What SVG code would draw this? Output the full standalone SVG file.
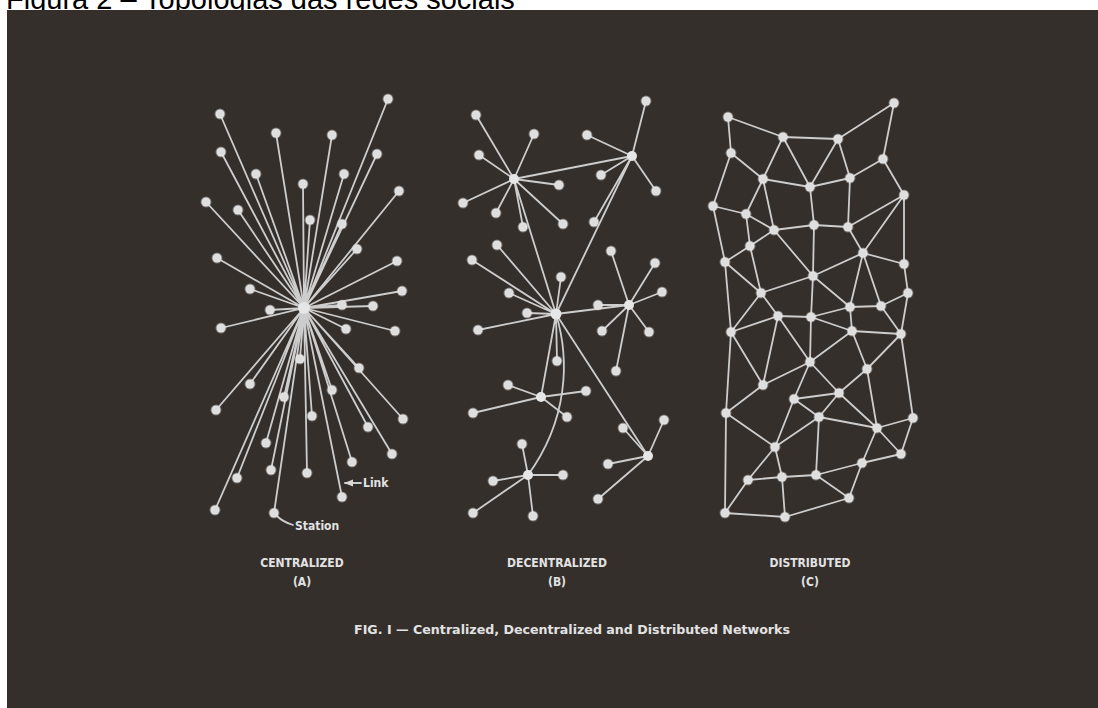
<svg xmlns="http://www.w3.org/2000/svg" width="1098" height="708" viewBox="0 0 1098 708">
<defs>
<marker id="arr" viewBox="0 0 10 10" refX="9" refY="5" markerWidth="5" markerHeight="5" orient="auto"><path d="M0 1L10 5L0 9z" fill="#d8d8d8"/></marker>
<style>
.ln{stroke:#cdcdcd;stroke-width:1.8;fill:none;stroke-linecap:round}
.nd{fill:#dedede;stroke:#f0f0f0;stroke-opacity:0.35;stroke-width:2}
.hub{fill:#e6e6e6}
.lbl{font-family:"DejaVu Sans Condensed","DejaVu Sans",sans-serif;fill:#e2e2e2;font-size:12px;font-weight:bold}
</style>
</defs>
<rect width="1098" height="708" fill="#ffffff"/>
<text x="6" y="8.5" font-family="Liberation Sans, Arial, sans-serif" font-size="29" fill="#000">Figura 2 – Topologias das redes sociais</text>
<rect x="7" y="10" width="1091" height="698" fill="#352f2c"/>

<g id="connectors">
<g id="conn-centralized">
<path class="ln" d="M304 308L388 99M304 308L220 114M304 308L276 133M304 308L332 135M304 308L221 152M304 308L377 154M304 308L256 174M304 308L344 174M304 308L303 184M304 308L399 191M304 308L206 202M304 308L238 210M304 308L310 220M304 308L342 224M304 308L357 249M304 308L217 258M304 308L397 261M304 308L250 289M304 308L402 291M304 308L342 305M304 308L373 306M304 308L270 310M304 308L221 328M304 308L346 329M304 308L395 331M304 308L300 359M304 308L359 368M304 308L250 384M304 308L332 390M304 308L284 397M304 308L216 410M304 308L312 416M304 308L403 419M304 308L368 427M304 308L266 443M304 308L392 454M304 308L352 462M304 308L271 470M304 308L307 473M304 308L237 478M304 308L342 497M304 308L215 510M304 308L274 513"/>
<path class="ln" d="M361 483L345 483" stroke-width="1.4" marker-end="url(#arr)"/>
<path class="ln" d="M277 516Q283 522 293 525" stroke-width="1.4"/>
</g>
<g id="conn-decentralized">
<path class="ln" d="M514 179L476 115M514 179L534 134M514 179L479 155M514 179L559 185M514 179L463 203M514 179L496 213M514 179L523 227M514 179L563 224M514 179L632 156M514 179L556 314"/>
<path class="ln" d="M632 156L646 101M632 156L587 135M632 156L601 175M632 156L656 191M632 156L594 222M632 156L556 314"/>
<path class="ln" d="M556 314L497 245M556 314L472 260M556 314L561 277M556 314L509 293M556 314L527 313M556 314L478 330M556 314L557 361M556 314L629 305M556 314L648 456M556 314L541 397"/>
<path class="ln" d="M556 314C570 360 568 420 528 475"/>
<path class="ln" d="M629 305L611 251M629 305L655 263M629 305L662 292M629 305L598 305M629 305L602 331M629 305L649 332M629 305L616 371"/>
<path class="ln" d="M648 456L664 420M648 456L623 428M648 456L608 464M648 456L598 499"/>
<path class="ln" d="M541 397L508 385M541 397L586 391M541 397L473 413M541 397L567 417"/>
<path class="ln" d="M528 475L522 444M528 475L493 481M528 475L563 475M528 475L473 513M528 475L533 516"/>
</g>
<g id="conn-distributed">
<path class="ln" d="M728 117L783 137M728 117L731 153M783 137L838 139M838 139L894 103M894 103L883 159M783 137L763 179M783 137L810 187M838 139L810 187M838 139L850 178M731 153L763 179M731 153L713 206M763 179L810 187M810 187L850 178M850 178L883 159M883 159L904 195M763 179L746 214M763 179L774 230M810 187L814 225M850 178L848 227M848 227L904 195M713 206L746 214M713 206L725 262M746 214L774 230M746 214L750 246M774 230L814 225M814 225L848 227M774 230L750 246M750 246L725 262M774 230L813 276M814 225L813 276M848 227L863 253M904 195L863 253M904 195L904 264M863 253L904 264M813 276L863 253M750 246L761 293M725 262L761 293M761 293L813 276M863 253L850 307M863 253L881 306M904 264L908 293M908 293L881 306M761 293L778 316M813 276L811 317M813 276L850 307M850 307L881 306M778 316L811 317M811 317L850 307"/>
<path class="ln" d="M731 332L778 316M725 262L731 332M761 293L731 332M811 317L810 362M811 317L852 331M850 307L852 331M881 306L901 334M852 331L901 334M852 331L867 369M901 334L867 369M901 334L913 418M908 293L901 334M810 362L852 331M778 316L763 385M778 316L810 362M731 332L763 385M731 332L726 413M810 362L763 385M810 362L839 393M810 362L794 399M867 369L839 393M867 369L877 428M763 385L726 413M794 399L839 393M794 399L819 417M839 393L819 417M839 393L877 428M794 399L775 447M726 413L775 447M726 413L725 513M819 417L877 428M819 417L775 447M819 417L816 475M913 418L877 428M913 418L901 454M877 428L901 454M877 428L862 463M775 447L748 480M775 447L782 477M901 454L862 463M862 463L816 475M862 463L849 498M748 480L782 477M748 480L725 513M782 477L785 517M816 475L849 498M725 513L785 517M785 517L849 498M782 477L816 475"/>
</g>
</g>

<g id="centralized">
<g id="hub-a"><circle class="hub" cx="304" cy="308" r="6"/></g>
<g id="ca1"><circle class="nd" cx="388" cy="99" r="4.5"/></g>
<g id="ca2"><circle class="nd" cx="220" cy="114" r="4.5"/></g>
<g id="ca3"><circle class="nd" cx="276" cy="133" r="4.5"/></g>
<g id="ca4"><circle class="nd" cx="332" cy="135" r="4.5"/></g>
<g id="ca5"><circle class="nd" cx="221" cy="152" r="4.5"/></g>
<g id="ca6"><circle class="nd" cx="377" cy="154" r="4.5"/></g>
<g id="ca7"><circle class="nd" cx="256" cy="174" r="4.5"/></g>
<g id="ca8"><circle class="nd" cx="344" cy="174" r="4.5"/></g>
<g id="ca9"><circle class="nd" cx="303" cy="184" r="4.5"/></g>
<g id="ca10"><circle class="nd" cx="399" cy="191" r="4.5"/></g>
<g id="ca11"><circle class="nd" cx="206" cy="202" r="4.5"/></g>
<g id="ca12"><circle class="nd" cx="238" cy="210" r="4.5"/></g>
<g id="ca13"><circle class="nd" cx="310" cy="220" r="4.5"/></g>
<g id="ca14"><circle class="nd" cx="342" cy="224" r="4.5"/></g>
<g id="ca15"><circle class="nd" cx="357" cy="249" r="4.5"/></g>
<g id="ca16"><circle class="nd" cx="217" cy="258" r="4.5"/></g>
<g id="ca17"><circle class="nd" cx="397" cy="261" r="4.5"/></g>
<g id="ca18"><circle class="nd" cx="250" cy="289" r="4.5"/></g>
<g id="ca19"><circle class="nd" cx="402" cy="291" r="4.5"/></g>
<g id="ca20"><circle class="nd" cx="342" cy="305" r="4.5"/></g>
<g id="ca21"><circle class="nd" cx="373" cy="306" r="4.5"/></g>
<g id="ca22"><circle class="nd" cx="270" cy="310" r="4.5"/></g>
<g id="ca23"><circle class="nd" cx="221" cy="328" r="4.5"/></g>
<g id="ca24"><circle class="nd" cx="346" cy="329" r="4.5"/></g>
<g id="ca25"><circle class="nd" cx="395" cy="331" r="4.5"/></g>
<g id="ca26"><circle class="nd" cx="300" cy="359" r="4.5"/></g>
<g id="ca27"><circle class="nd" cx="359" cy="368" r="4.5"/></g>
<g id="ca28"><circle class="nd" cx="250" cy="384" r="4.5"/></g>
<g id="ca29"><circle class="nd" cx="332" cy="390" r="4.5"/></g>
<g id="ca30"><circle class="nd" cx="284" cy="397" r="4.5"/></g>
<g id="ca31"><circle class="nd" cx="216" cy="410" r="4.5"/></g>
<g id="ca32"><circle class="nd" cx="312" cy="416" r="4.5"/></g>
<g id="ca33"><circle class="nd" cx="403" cy="419" r="4.5"/></g>
<g id="ca34"><circle class="nd" cx="368" cy="427" r="4.5"/></g>
<g id="ca35"><circle class="nd" cx="266" cy="443" r="4.5"/></g>
<g id="ca36"><circle class="nd" cx="392" cy="454" r="4.5"/></g>
<g id="ca37"><circle class="nd" cx="352" cy="462" r="4.5"/></g>
<g id="ca38"><circle class="nd" cx="271" cy="470" r="4.5"/></g>
<g id="ca39"><circle class="nd" cx="307" cy="473" r="4.5"/></g>
<g id="ca40"><circle class="nd" cx="237" cy="478" r="4.5"/></g>
<g id="ca41"><circle class="nd" cx="342" cy="497" r="4.5"/></g>
<g id="ca42"><circle class="nd" cx="215" cy="510" r="4.5"/></g>
<g id="ca43"><circle class="nd" cx="274" cy="513" r="4.5"/></g>
<text class="lbl" x="363" y="487" font-size="11" font-weight="normal">Link</text>
<text class="lbl" x="295" y="530" font-size="11" font-weight="normal">Station</text>
<text class="lbl" x="302" y="567" text-anchor="middle">CENTRALIZED</text>
<text class="lbl" x="302" y="586" text-anchor="middle">(A)</text>
</g>

<g id="decentralized">
<g id="b-hub0"><circle class="hub" cx="556" cy="314" r="5.5"/></g>
<g id="b-hub1"><circle class="hub" cx="514" cy="179" r="5"/></g>
<g id="b-hub2"><circle class="hub" cx="632" cy="156" r="5"/></g>
<g id="b-hub3"><circle class="hub" cx="629" cy="305" r="5"/></g>
<g id="b-hub4"><circle class="hub" cx="648" cy="456" r="5"/></g>
<g id="b-hub5"><circle class="hub" cx="541" cy="397" r="5"/></g>
<g id="b-hub6"><circle class="hub" cx="528" cy="475" r="5"/></g>
<g id="b1a"><circle class="nd" cx="476" cy="115" r="4.5"/></g>
<g id="b1b"><circle class="nd" cx="534" cy="134" r="4.5"/></g>
<g id="b1c"><circle class="nd" cx="479" cy="155" r="4.5"/></g>
<g id="b1d"><circle class="nd" cx="559" cy="185" r="4.5"/></g>
<g id="b1e"><circle class="nd" cx="463" cy="203" r="4.5"/></g>
<g id="b1f"><circle class="nd" cx="496" cy="213" r="4.5"/></g>
<g id="b1g"><circle class="nd" cx="523" cy="227" r="4.5"/></g>
<g id="b1h"><circle class="nd" cx="563" cy="224" r="4.5"/></g>
<g id="b2a"><circle class="nd" cx="646" cy="101" r="4.5"/></g>
<g id="b2b"><circle class="nd" cx="587" cy="135" r="4.5"/></g>
<g id="b2c"><circle class="nd" cx="601" cy="175" r="4.5"/></g>
<g id="b2d"><circle class="nd" cx="656" cy="191" r="4.5"/></g>
<g id="b2e"><circle class="nd" cx="594" cy="222" r="4.5"/></g>
<g id="b0a"><circle class="nd" cx="497" cy="245" r="4.5"/></g>
<g id="b0b"><circle class="nd" cx="472" cy="260" r="4.5"/></g>
<g id="b0c"><circle class="nd" cx="561" cy="277" r="4.5"/></g>
<g id="b0d"><circle class="nd" cx="509" cy="293" r="4.5"/></g>
<g id="b0e"><circle class="nd" cx="527" cy="313" r="4.5"/></g>
<g id="b0f"><circle class="nd" cx="478" cy="330" r="4.5"/></g>
<g id="b0g"><circle class="nd" cx="557" cy="361" r="4.5"/></g>
<g id="b3a"><circle class="nd" cx="611" cy="251" r="4.5"/></g>
<g id="b3b"><circle class="nd" cx="655" cy="263" r="4.5"/></g>
<g id="b3c"><circle class="nd" cx="662" cy="292" r="4.5"/></g>
<g id="b3d"><circle class="nd" cx="598" cy="305" r="4.5"/></g>
<g id="b3e"><circle class="nd" cx="602" cy="331" r="4.5"/></g>
<g id="b3f"><circle class="nd" cx="649" cy="332" r="4.5"/></g>
<g id="b3g"><circle class="nd" cx="616" cy="371" r="4.5"/></g>
<g id="b4a"><circle class="nd" cx="664" cy="420" r="4.5"/></g>
<g id="b4b"><circle class="nd" cx="623" cy="428" r="4.5"/></g>
<g id="b4c"><circle class="nd" cx="608" cy="464" r="4.5"/></g>
<g id="b4d"><circle class="nd" cx="598" cy="499" r="4.5"/></g>
<g id="b5a"><circle class="nd" cx="508" cy="385" r="4.5"/></g>
<g id="b5b"><circle class="nd" cx="586" cy="391" r="4.5"/></g>
<g id="b5c"><circle class="nd" cx="473" cy="413" r="4.5"/></g>
<g id="b5d"><circle class="nd" cx="567" cy="417" r="4.5"/></g>
<g id="b6a"><circle class="nd" cx="522" cy="444" r="4.5"/></g>
<g id="b6b"><circle class="nd" cx="493" cy="481" r="4.5"/></g>
<g id="b6c"><circle class="nd" cx="563" cy="475" r="4.5"/></g>
<g id="b6d"><circle class="nd" cx="473" cy="513" r="4.5"/></g>
<g id="b6e"><circle class="nd" cx="533" cy="516" r="4.5"/></g>
<text class="lbl" x="557" y="567" text-anchor="middle">DECENTRALIZED</text>
<text class="lbl" x="557" y="586" text-anchor="middle">(B)</text>
</g>

<g id="distributed">
<g id="cA"><circle class="nd" cx="728" cy="117" r="4.5"/></g>
<g id="cB"><circle class="nd" cx="783" cy="137" r="4.5"/></g>
<g id="cC"><circle class="nd" cx="838" cy="139" r="4.5"/></g>
<g id="cD"><circle class="nd" cx="894" cy="103" r="4.5"/></g>
<g id="cE"><circle class="nd" cx="731" cy="153" r="4.5"/></g>
<g id="cF"><circle class="nd" cx="883" cy="159" r="4.5"/></g>
<g id="cG"><circle class="nd" cx="763" cy="179" r="4.5"/></g>
<g id="cH"><circle class="nd" cx="850" cy="178" r="4.5"/></g>
<g id="cI"><circle class="nd" cx="810" cy="187" r="4.5"/></g>
<g id="cJ"><circle class="nd" cx="904" cy="195" r="4.5"/></g>
<g id="cK"><circle class="nd" cx="713" cy="206" r="4.5"/></g>
<g id="cL"><circle class="nd" cx="746" cy="214" r="4.5"/></g>
<g id="cM"><circle class="nd" cx="774" cy="230" r="4.5"/></g>
<g id="cN"><circle class="nd" cx="814" cy="225" r="4.5"/></g>
<g id="cO"><circle class="nd" cx="848" cy="227" r="4.5"/></g>
<g id="cP"><circle class="nd" cx="750" cy="246" r="4.5"/></g>
<g id="cQ"><circle class="nd" cx="863" cy="253" r="4.5"/></g>
<g id="cR"><circle class="nd" cx="725" cy="262" r="4.5"/></g>
<g id="cS"><circle class="nd" cx="904" cy="264" r="4.5"/></g>
<g id="cT"><circle class="nd" cx="813" cy="276" r="4.5"/></g>
<g id="cU"><circle class="nd" cx="761" cy="293" r="4.5"/></g>
<g id="cV"><circle class="nd" cx="908" cy="293" r="4.5"/></g>
<g id="cW"><circle class="nd" cx="850" cy="307" r="4.5"/></g>
<g id="cX"><circle class="nd" cx="881" cy="306" r="4.5"/></g>
<g id="cY"><circle class="nd" cx="778" cy="316" r="4.5"/></g>
<g id="cZ"><circle class="nd" cx="811" cy="317" r="4.5"/></g>
<g id="c1"><circle class="nd" cx="731" cy="332" r="4.5"/></g>
<g id="c2"><circle class="nd" cx="852" cy="331" r="4.5"/></g>
<g id="c3"><circle class="nd" cx="901" cy="334" r="4.5"/></g>
<g id="c4"><circle class="nd" cx="810" cy="362" r="4.5"/></g>
<g id="c5"><circle class="nd" cx="867" cy="369" r="4.5"/></g>
<g id="c6"><circle class="nd" cx="763" cy="385" r="4.5"/></g>
<g id="c7"><circle class="nd" cx="839" cy="393" r="4.5"/></g>
<g id="c8"><circle class="nd" cx="794" cy="399" r="4.5"/></g>
<g id="c9"><circle class="nd" cx="726" cy="413" r="4.5"/></g>
<g id="c10"><circle class="nd" cx="819" cy="417" r="4.5"/></g>
<g id="c11"><circle class="nd" cx="913" cy="418" r="4.5"/></g>
<g id="c12"><circle class="nd" cx="877" cy="428" r="4.5"/></g>
<g id="c13"><circle class="nd" cx="775" cy="447" r="4.5"/></g>
<g id="c14"><circle class="nd" cx="901" cy="454" r="4.5"/></g>
<g id="c15"><circle class="nd" cx="862" cy="463" r="4.5"/></g>
<g id="c16"><circle class="nd" cx="748" cy="480" r="4.5"/></g>
<g id="c17"><circle class="nd" cx="782" cy="477" r="4.5"/></g>
<g id="c18"><circle class="nd" cx="816" cy="475" r="4.5"/></g>
<g id="c19"><circle class="nd" cx="849" cy="498" r="4.5"/></g>
<g id="c20"><circle class="nd" cx="725" cy="513" r="4.5"/></g>
<g id="c21"><circle class="nd" cx="785" cy="517" r="4.5"/></g>
<text class="lbl" x="810" y="567" text-anchor="middle">DISTRIBUTED</text>
<text class="lbl" x="810" y="586" text-anchor="middle">(C)</text>
</g>

<g id="caption">
<text class="lbl" x="572" y="634" text-anchor="middle" font-size="13" textLength="436" lengthAdjust="spacingAndGlyphs">FIG. I — Centralized, Decentralized and Distributed Networks</text>
</g>
</svg>
